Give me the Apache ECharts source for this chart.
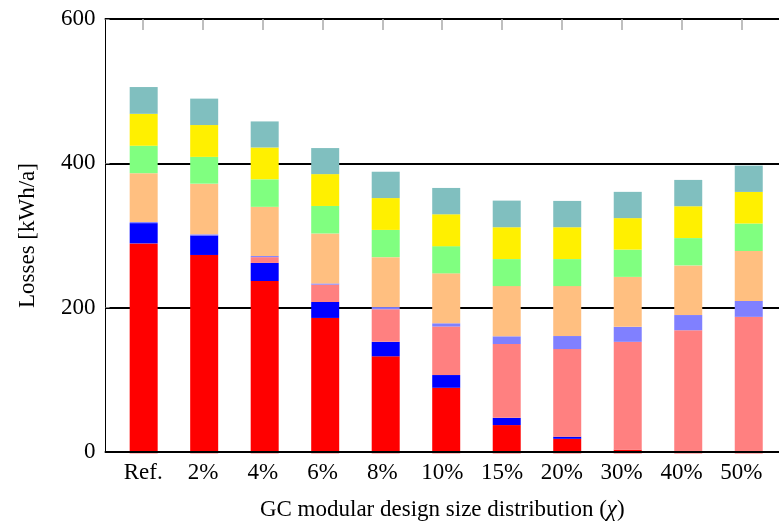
<!DOCTYPE html>
<html>
<head>
<meta charset="utf-8">
<script src="https://cdn.jsdelivr.net/npm/echarts@6/dist/echarts.min.js"></script>
<style>
  html, body { margin: 0; padding: 0; background: #fff; }
  #chart { width: 779px; height: 526px; }
</style>
</head>
<body>
<div id="chart"></div>
<script>
// Size distribution cases along the x axis
const categories = ['Ref.', '2%', '4%', '6%', '8%', '10%', '15%', '20%', '30%', '40%', '50%'];

// Loss components in kWh/a, stacked bottom to top
const redLoss    = [290, 274, 238, 187, 134, 90.5, 39, 20, 5, 2, 0.5];
const blueLoss   = [28, 27, 25, 22, 20, 17.6, 10, 3, 0, 0, 0];
const salmonLoss = [0, 0, 8, 24, 45, 67, 102, 121, 149, 168, 188];
const lilacLoss  = [1.5, 1.5, 1.5, 1.7, 3, 4.5, 10.6, 18, 20.7, 21, 22];
const orangeLoss = [67.5, 70, 68, 69, 69, 69, 69.4, 69, 69, 68.6, 69];
const greenLoss  = [38, 37, 38, 38, 37.6, 37.6, 37.3, 37.3, 37.7, 37.7, 38];
const yellowLoss = [44, 44, 44, 44, 44, 44, 44, 44, 43.5, 44, 43.6];
const tealLoss   = [37, 36.5, 36, 36, 36.4, 36.4, 36.8, 36.4, 36.3, 36.4, 36.4];

// Y axis tick labels
const yTicks = [0, 200, 400, 600];

const layers = [
  { data: redLoss,    color: '#ff0000' },
  { data: blueLoss,   color: '#0000ff' },
  { data: salmonLoss, color: '#ff8080' },
  { data: lilacLoss,  color: '#8080ff' },
  { data: orangeLoss, color: '#ffbf80' },
  { data: greenLoss,  color: '#80ff80' },
  { data: yellowLoss, color: '#fff000' },
  { data: tealLoss,   color: '#80bfbf' }
];

const idx = categories.map((_, i) => i);
const FONT = '"Liberation Serif", "Times New Roman", serif';
const FS = 23;

// Frame grid spans slightly wider than the bar bands (x limits enlarged)
const FRAME_LEFT = 105.5, FRAME_WIDTH = 686.5, TOP = 19, BOTTOM = 72.7;
const X_MIN = -0.63, X_MAX = 10.63;
const unit = FRAME_WIDTH / (X_MAX - X_MIN);
const BAR_LEFT = FRAME_LEFT + (0 - X_MIN - 0.5) * unit;
const BAR_WIDTH_TOTAL = unit * categories.length;

const chart = echarts.init(document.getElementById('chart'), null, { renderer: 'canvas' });

chart.setOption({
  animation: false,
  backgroundColor: '#ffffff',
  grid: [
    { left: FRAME_LEFT, top: TOP, width: FRAME_WIDTH, bottom: BOTTOM, containLabel: false },
    { left: BAR_LEFT, top: TOP, width: BAR_WIDTH_TOTAL, bottom: BOTTOM, containLabel: false }
  ],
  xAxis: [
    {
      gridIndex: 0,
      type: 'value',
      min: X_MIN,
      max: X_MAX,
      position: 'bottom',
      axisLine: { show: true, onZero: false, lineStyle: { color: '#000', width: 2 } },
      axisTick: { show: false },
      splitLine: { show: false },
      axisLabel: {
        customValues: idx,
        formatter: v => categories[Math.round(v)],
        fontFamily: FONT,
        fontSize: FS,
        color: '#000',
        margin: 9
      },
      name: 'GC modular design size distribution ({i|χ})',
      nameLocation: 'middle',
      nameGap: 46,
      nameTextStyle: {
        fontFamily: FONT,
        fontSize: FS,
        color: '#000',
        rich: { i: { fontFamily: FONT, fontSize: FS, fontStyle: 'italic', color: '#000' } }
      },
      z: 5
    },
    {
      gridIndex: 0,
      type: 'value',
      min: X_MIN,
      max: X_MAX,
      position: 'top',
      axisLine: { show: true, onZero: false, lineStyle: { color: '#000', width: 2 } },
      axisTick: {
        show: true,
        inside: true,
        length: 11,
        customValues: idx,
        lineStyle: { color: '#aaaaaa', width: 1.5 }
      },
      axisLabel: { show: false },
      splitLine: { show: false }
    },
    {
      gridIndex: 1,
      type: 'category',
      data: categories,
      boundaryGap: true,
      show: false
    }
  ],
  yAxis: [
    {
      gridIndex: 0,
      type: 'value',
      min: 0,
      max: 600,
      interval: 200,
      axisLine: { show: true, onZero: false, lineStyle: { color: '#000', width: 1 } },
      axisTick: { show: true, inside: true, length: 4, lineStyle: { color: '#888' } },
      splitLine: { show: true, lineStyle: { color: '#000', width: 2 } },
      axisLabel: {
        customValues: yTicks,
        fontFamily: FONT,
        fontSize: FS,
        color: '#000',
        margin: 10
      },
      name: 'Losses [kWh/a]',
      nameLocation: 'middle',
      nameGap: 66,
      nameRotate: 90,
      nameTextStyle: { fontFamily: FONT, fontSize: FS, color: '#000' }
    },
    {
      gridIndex: 1,
      type: 'value',
      min: 0,
      max: 600,
      show: false,
      splitLine: { show: false }
    }
  ],
  series: layers.map((l, k) => ({
    type: 'bar',
    name: 'layer' + k,
    stack: 'losses',
    xAxisIndex: 2,
    yAxisIndex: 1,
    barWidth: 28,
    itemStyle: { color: l.color },
    data: l.data,
    z: 2
  }))
});
</script>
</body>
</html>
